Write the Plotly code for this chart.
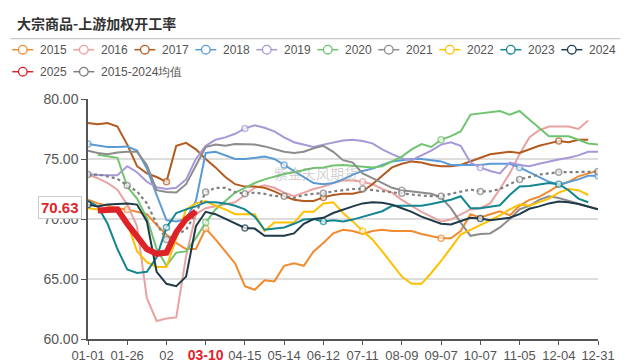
import plotly.graph_objects as go

weeks = list(range(53))
tick_idx = [0, 4, 8, 12, 16, 20, 24, 28, 32, 36, 40, 44, 48, 52]
tick_labels = ["01-01", "01-26", "02", "03-10", "04-15", "05-14", "06-12", "07-11",
               "08-09", "09-07", "10-07", "11-05", "12-04", "12-31"]

y2015 = [71.6, 71.3, 71.1, 70.9, 70.8, 70.6, 70.4, 69.5, 68.7, 68.0, 67.5, 67.5, 69.2, 68.3,
         67.3, 66.3, 64.4, 64.1, 64.9, 64.8, 66.1, 66.3, 66.1, 67.3, 68.0, 68.8, 69.1,
         69.0, 68.75, 69.0, 69.1, 69.0, 69.0, 69.0, 68.75, 68.55, 68.4, 68.4, 69.0, 70.4, 70.1,
         70.4, 70.65, 70.3, 71.1, 71.6, 71.85, 72.3, 72.8, 73.1, 73.55, 73.8, 74.0]
y2016 = [73.7, 73.4, 73.0, 72.45, 71.2, 69.4, 63.4, 61.5, 61.7, 61.8, 66.9, 70.4, 70.9, 71.05,
         71.2, 71.4, 72.0, 72.6, 72.8, 72.6, 72.2, 71.9, 72.2, 72.5, 72.7, 73.0, 73.2,
         73.2, 73.1, 72.9, 72.5, 72.2, 71.6, 71.1, 70.6, 70.2, 69.8, 69.95, 70.4, 70.8, 70.9,
         71.3, 72.5, 73.8, 75.4, 76.8, 77.4, 77.7, 77.7, 77.7, 77.5, 78.2, None]
y2017 = [78.0, 77.9, 78.0, 77.7, 76.2, 74.4, 73.8, 73.5, 73.1, 76.1, 76.35, 75.8, 75.0, 74.3,
         73.5, 72.9, 72.7, 72.7, 72.6, 72.3, 71.9, 71.6, 71.5, 71.5, 71.8, 72.0, 72.1,
         72.1, 72.3, 72.9, 73.6, 74.3, 74.6, 74.8, 74.7, 74.5, 74.4, 74.4, 74.5, 74.8, 75.1,
         75.4, 75.5, 75.6, 75.5, 75.8, 76.1, 76.3, 76.5, 76.4, 76.6, 76.6, None]
y2018 = [76.25, 76.1, 76.0, 76.0, 76.05, 75.7, 74.2, 72.0, 69.9, 69.8, 70.0, 71.5, 75.5, 75.6,
         75.3, 75.0, 75.0, 75.1, 75.2, 75.0, 74.5, 74.0, 73.5, 73.0, 72.9, 73.0, 73.3,
         73.7, 74.0, 74.2, 74.5, 74.8, 74.9, 75.0, 75.0, 74.9, 74.8, 74.5, 74.5, 74.5, 74.5,
         74.6, 74.6, 74.6, 74.3, 73.9, 73.5, 73.1, 72.85, 73.05, 73.3, 73.6, 73.6]
y2019 = [73.7, 73.65, 73.65, 73.65, 74.4, 73.9, 73.1, 72.65, 72.5, 72.6, 73.3, 75.0, 76.1, 76.6,
         76.8, 77.1, 77.55, 77.8, 77.6, 77.3, 76.8, 76.4, 76.2, 76.0, 76.2, 76.4, 76.55,
         76.6, 76.5, 76.3, 75.8, 75.4, 75.05, 74.9, 75.3, 75.7, 76.2, 76.4, 76.1, 74.7, 74.3,
         74.0, 73.8, 74.7, 74.5, 74.4, 74.6, 74.8, 74.95, 75.1, 75.3, 75.6, 75.6]
y2020 = [None, 75.35, 75.2, 75.1, 72.7, 71.7, 70.1, 67.5, 66.1, 67.2, 67.3, 68.4, 69.7, 70.8,
         71.5, 72.2, 72.6, 73.0, 73.3, 73.55, 73.75, 73.9, 74.1, 74.25, 74.3, 74.45, 74.5,
         74.45, 74.4, 74.3, 74.4, 74.8, 75.2, 75.8, 76.25, 76.0, 76.6, 76.9, 77.3, 78.7, 78.8,
         78.9, 79.0, 78.7, 79.0, 78.3, 77.6, 76.9, 76.9, 76.9, 76.6, 76.3, 76.2]
y2021 = [75.7, 75.5, 75.4, 75.55, 75.6, 75.6, 74.5, 72.4, 72.25, 72.2, 72.9, 74.5, 76.0, 76.2,
         76.1, 76.25, 76.25, 76.2, 76.05, 75.8, 75.6, 75.5, 75.6, 75.9, 76.1, 75.6, 74.9,
         74.7, 73.8, 73.4, 73.0, 72.6, 72.4, 72.3, 72.25, 72.1, 71.8, 70.9, 69.7, 68.6, 68.75,
         68.8, 69.3, 70.0, 70.8, 71.1, 71.6, 71.9, 71.75, 71.5, 71.3, 71.05, 70.8]
y2022 = [70.9, 70.8, 70.8, 70.8, 69.7, 67.3, 66.4, 66.0, 66.0, 68.5, 70.8, 71.3, 71.5, 71.1,
         70.8, 70.4, 70.4, 70.4, 69.0, 69.7, 69.7, 69.7, 70.6, 70.6, 71.3, 71.4, 70.5,
         69.8, 69.0, 68.3, 67.3, 66.2, 65.2, 64.6, 64.6, 65.5, 66.5, 67.6, 68.7, 69.1, 69.5,
         69.9, 70.3, 70.8, 71.2, 71.1, 71.4, 71.7, 72.2, 72.5, 72.4, 72.0, None]
y2023 = [71.5, 71.05, 69.6, 67.5, 65.8, 65.5, 65.6, 66.8, 69.3, 70.5, 70.8, 71.05, 71.4, 71.4,
         71.3, 71.1, 70.8, 70.2, 69.1, 69.2, 69.3, 69.6, 69.95, 70.0, 69.8, 69.9, 69.8,
         69.95, 70.2, 70.4, 70.65, 71.1, 71.1, 71.1, 71.1, 71.25, 71.4, 71.6, 71.9, 70.9, 70.9,
         71.0, 71.15, 72.0, 72.7, 72.75, 72.9, 73.0, 72.9, 72.4, 71.7, 71.4, None]
y2024 = [71.2, 71.05, 71.2, 71.25, 71.3, 71.2, 69.8, 65.6, 64.6, 64.4, 65.2, 69.4, 70.6, 70.4,
         70.0, 69.6, 69.25, 69.2, 68.6, 68.6, 68.6, 68.8, 69.6, 70.0, 70.1, 70.5, 70.8,
         71.05, 71.3, 71.4, 71.35, 71.2, 70.9, 70.6, 70.2, 69.9, 69.6, 69.55, 69.8, 70.1, 70.05,
         69.9, 70.0, 70.1, 70.4, 70.85, 71.05, 71.3, 71.45, 71.4, 71.25, 71.0, 70.8]
y2025 = [None, 70.7, 70.8, 70.8, 69.6, 68.5, 67.5, 67.1, 67.2, 68.9, 70.0, 70.63] + [None] * 41
yavg = [73.7, 73.7, 73.55, 73.35, 72.8, 72.3, 71.3, 69.6, 68.3, 68.7, 69.1, 70.5, 72.25, 72.6,
        72.6, 72.25, 72.1, 72.2, 72.1, 71.9, 71.9, 71.75, 72.0, 72.1, 72.15, 72.3, 72.4,
        72.5, 72.5, 72.4, 72.35, 72.25, 72.15, 72.0, 71.95, 71.9, 71.9, 72.1, 72.25, 72.45, 72.3,
        72.3, 72.5, 72.9, 73.3, 73.5, 73.7, 73.8, 73.9, 73.9, 73.9, 73.9, 73.95]
latest_label = "70.63"

series = [
    ("2015", y2015, "#F28A30", 2, "solid", [4, 12, 36]),
    ("2016", y2016, "#E8A3A1", 2, "solid", [28]),
    ("2017", y2017, "#B35A1F", 2, "solid", [8, 24, 48]),
    ("2018", y2018, "#5B9BD5", 2, "solid", [0, 20, 44, 52]),
    ("2019", y2019, "#A898D8", 2, "solid", [16, 40]),
    ("2020", y2020, "#70C470", 2, "solid", [12, 36]),
    ("2021", y2021, "#8C8C8C", 2, "solid", [32]),
    ("2022", y2022, "#FFC000", 2, "solid", [28]),
    ("2023", y2023, "#15868F", 2, "solid", [8, 24, 48]),
    ("2024", y2024, "#1F3A48", 2, "solid", [0, 16, 40]),
    ("2015-2024均值", yavg, "#7F7F7F", 2.2, "dot", list(range(0, 53, 4))),
    ("2025", y2025, "#DE2328", 6, "solid", []),
]

fig = go.Figure()
for name, ys, col, w, dash, mk in series:
    sizes = [6 if i in mk else 0 for i in weeks]
    lws = [1.5 if i in mk else 0 for i in weeks]
    fig.add_trace(go.Scatter(
        x=weeks, y=ys, mode="lines+markers", name=name, showlegend=False,
        line=dict(color=col, width=w, dash=dash),
        marker=dict(size=sizes, color="white", line=dict(color=col, width=lws)),
        hoverinfo="skip"))

W, H = 631, 364
L, R, T, B = 87.7, 33.3, 99.3, 24.7
pw, ph = W - L - R, H - T - B

def px(xp):
    return (xp - L) / pw

def py(yp):
    return (H - B - yp) / ph

# legend drawn in two rows (library shapes + text annotations)
legend_rows = [["2015", "2016", "2017", "2018", "2019", "2020", "2021", "2022", "2023", "2024"],
               ["2025", "2015-2024均值"]]
lookup = {s[0]: s for s in series}
legend_font = dict(family="Liberation Sans, Arial, sans-serif", size=12, color="#555555")
for r, row in enumerate(legend_rows):
    yc = 50 + 22 * r
    for k, name in enumerate(row):
        col = lookup[name][2]
        x0 = 12 + 61 * k
        fig.add_shape(type="line", xref="paper", yref="paper",
                      x0=px(x0), x1=px(x0 + 21), y0=py(yc), y1=py(yc),
                      line=dict(color=col, width=1.5))
        rr = 4.3
        fig.add_shape(type="circle", xref="paper", yref="paper",
                      x0=px(x0 + 10.5 - rr), x1=px(x0 + 10.5 + rr),
                      y0=py(yc + rr), y1=py(yc - rr),
                      fillcolor="white", line=dict(color=col, width=1.3))
        fig.add_annotation(xref="paper", yref="paper", x=px(x0 + 26), y=py(yc),
                           xanchor="left", yanchor="middle", text=name, showarrow=False,
                           font=legend_font)

ticktext = []
for t in tick_labels:
    if t == "03-10":
        ticktext.append("<b><span style='color:#E0242B;font-size:14px'>03-10</span></b>")
    else:
        ticktext.append(t)

narrow = "Liberation Sans Narrow, Arial Narrow, Liberation Sans, sans-serif"

fig.update_layout(
    width=W, height=H,
    margin=dict(l=L, r=R, t=T, b=B, pad=0, autoexpand=False),
    paper_bgcolor="white", plot_bgcolor="white",
    showlegend=False,
    xaxis=dict(range=[0, 52], tickmode="array", tickvals=tick_idx, ticktext=ticktext,
               showgrid=False, zeroline=False, showline=True, linecolor="#555555", linewidth=1.5,
               ticks="outside", ticklen=4, tickcolor="#555555",
               tickfont=dict(family=narrow, size=13, color="#555555"),
               automargin=False),
    yaxis=dict(range=[60, 80], tickmode="array", tickvals=[60, 65, 70, 75, 80],
               tickformat=".2f", showgrid=True, gridcolor="#DDDDDD", gridwidth=1.5,
               zeroline=False, showline=True, linecolor="#555555", linewidth=1.5,
               ticks="outside", ticklen=5, tickcolor="#555555",
               tickfont=dict(family=narrow, size=14, color="#555555"),
               automargin=False),
)

fig.add_shape(type="line", xref="paper", yref="paper", x0=px(10), x1=px(620), y0=py(39), y1=py(39),
              line=dict(color="#BBBBBB", width=1))

fig.add_annotation(xref="paper", yref="paper", x=px(15), y=py(23), xanchor="left", yanchor="middle",
                   text="<b>大宗商品-上游加权开工率</b>", showarrow=False,
                   font=dict(family="Noto Sans CJK SC", size=14, color="#333333"))

fig.add_annotation(xref="x", yref="y", x=23.2, y=73.8, text="紫金天风期货", showarrow=False,
                   font=dict(family="Noto Sans CJK SC", size=14, color="rgba(150,150,150,0.45)"))

fig.add_annotation(xref="paper", yref="y", x=px(82), y=y2025[11], xanchor="right", yanchor="middle",
                   yshift=4, text="<b>" + latest_label + "</b>", showarrow=False,
                   font=dict(family=narrow, size=15, color="#E0242B"),
                   bgcolor="white", bordercolor="#CCCCCC", borderwidth=1, borderpad=2)

fig.write_html("out.html", config={"displayModeBar": False},
               post_script="document.body.style.margin='0px';")
